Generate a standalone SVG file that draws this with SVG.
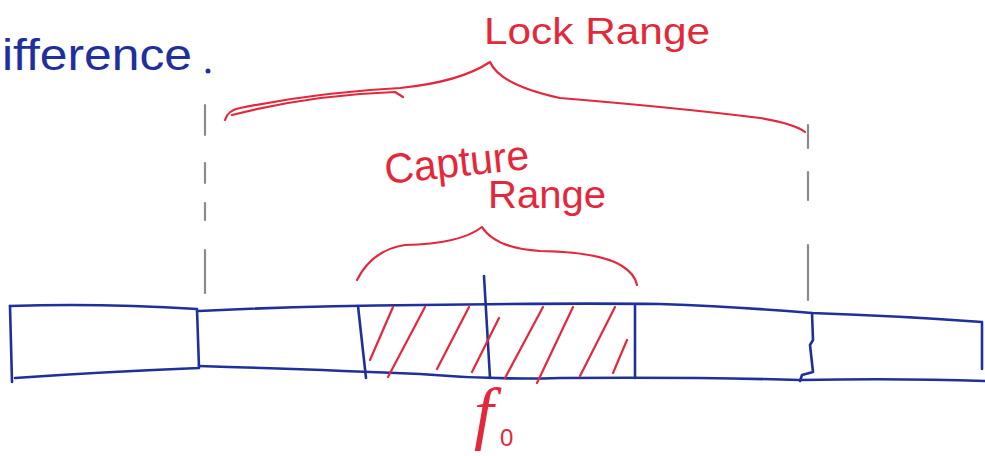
<svg xmlns="http://www.w3.org/2000/svg" width="985" height="456" viewBox="0 0 985 456">
<style>
.blue{fill:none;stroke:#1f2f9c;stroke-width:2.6;stroke-linecap:round;stroke-linejoin:round}
.red{fill:none;stroke:#e3283c;stroke-width:2.2;stroke-linecap:round;stroke-linejoin:round}
.grey{fill:none;stroke:#8a8a8a;stroke-width:2.2;stroke-linecap:round}
.tb{font-family:"Liberation Sans","DejaVu Sans",sans-serif;fill:#1f2f9c}
.tr{font-family:"Liberation Sans","DejaVu Sans",sans-serif;fill:#e3283c}
</style>
<rect width="985" height="456" fill="#ffffff"/>

<g id="heading">
<text class="tb" x="2" y="70" font-size="44" textLength="190" lengthAdjust="spacingAndGlyphs">ifference</text>
<circle cx="208" cy="71" r="2.5" fill="#1f2f9c"/>
</g>

<g id="guides">
<path class="grey" d="M205 105V135M205 163V183M205 203V220M205 250V293"/>
<path class="grey" d="M808 125V148M808 172V200M808 245V300"/>
</g>

<g id="bar">
<path class="blue" d="M10 306 Q100 303 197 309 L199 368 Q100 372 15 378"/>
<path class="blue" d="M10 306 L12 382"/>
<path class="blue" d="M199 311 Q300 306 420 305 Q560 303 660 304 Q740 307 812 313 Q900 316 982 322 L982 369"/>
<path class="blue" d="M199 366 Q330 370 420 374 Q490 380 560 378 Q700 377 800 380 Q900 378 985 381"/>
<path class="blue" d="M812 313 L813 340 L810 345 L813 372 L802 375 L800 381"/>
</g>

<g id="capture-band">
<path class="blue" d="M358 306 L366 378"/>
<path class="blue" d="M635 306 L635 378"/>
<path class="blue" d="M484 276 L490 378"/>
<path class="red" d="M370 360L393 307M388 377L425 307M437 369L469 307M472 372L499 318M505 378L543 307M537 383L573 307M580 376L615 307M613 373L627 340"/>
</g>

<g id="lock-range">
<path class="red" d="M225 120 Q228 110 240 108 Q320 92 400 88 Q460 82 490 62 Q500 85 560 98 Q680 108 760 118 Q795 124 805 132"/>
<path class="red" d="M232 115 Q310 95 395 92 L403 97"/>
<text class="tr" x="484" y="44" font-size="36" textLength="226" lengthAdjust="spacingAndGlyphs">Lock Range</text>
</g>

<g id="capture-range">
<path class="red" d="M357 280 Q372 250 405 245 Q460 244 482 227 Q495 248 540 251 Q600 252 622 266 Q635 274 637 285"/>
<text class="tr" x="386" y="184" font-size="42" textLength="145" lengthAdjust="spacingAndGlyphs" transform="rotate(-6 386 184)">Capture</text>
<text class="tr" x="488" y="208" font-size="38" textLength="118" lengthAdjust="spacingAndGlyphs">Range</text>
</g>

<g id="f0">
<text x="474" y="436" font-size="70" font-style="italic" font-family="'Liberation Serif','DejaVu Serif',serif" fill="#e3283c">f</text>
<text class="tr" x="500" y="446" font-size="24">0</text>
</g>
</svg>
